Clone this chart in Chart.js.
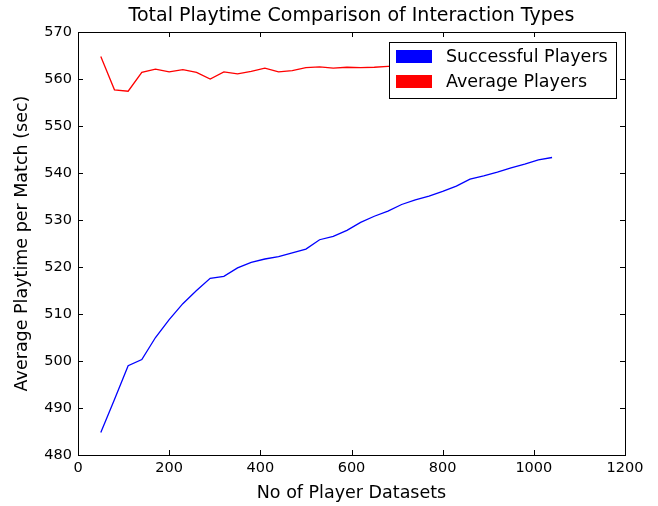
<!DOCTYPE html>
<html>
<head>
<meta charset="utf-8">
<title>Total Playtime Comparison of Interaction Types</title>
<script src="https://cdn.jsdelivr.net/npm/chart.js@4/dist/chart.umd.min.js"></script>
<style>
  body { margin: 0; background: #fff; }
  #playtimeChart { display: block; }
</style>
</head>
<body>
<canvas id="playtimeChart" width="658" height="506"></canvas>
<script>
// data
const datasetSizes = [50, 80, 110, 140, 170, 200, 230, 260, 290, 320, 350, 380, 410, 440, 470, 500, 530,
  560, 590, 620, 650, 680, 710, 740, 770, 800, 830, 860, 890, 920, 950, 980, 1010, 1040];
const successfulPlayers = [484.8, 491.8, 499.0, 500.3, 505.0, 508.8, 512.2, 515.0, 517.6, 518.0, 519.8,
  521.0, 521.7, 522.2, 523.0, 523.8, 525.8, 526.5, 527.8, 529.5, 530.8, 531.9, 533.3, 534.3, 535.1,
  536.1, 537.2, 538.7, 539.4, 540.2, 541.1, 541.9, 542.8, 543.3];
// values after 680 sit behind the legend, guessed
const averagePlayers = [564.8, 557.7, 557.4, 561.4, 562.1, 561.5, 562.0, 561.4, 560.0, 561.5, 561.1,
  561.6, 562.3, 561.5, 561.8, 562.4, 562.6, 562.3, 562.5, 562.4, 562.5, 562.7, 562.8, 562.6, 562.9,
  563.0, 562.8, 563.1, 563.0, 563.2, 563.1, 563.3, 563.2, 563.4];
const xTicks = [0, 200, 400, 600, 800, 1000, 1200];
const yTicks = [480, 490, 500, 510, 520, 530, 540, 550, 560, 570];
const seriesNames = ["Successful Players", "Average Players"];
const seriesColors = ["#0000ff", "#ff0000"];

const FONT = "'DejaVu Sans', sans-serif";

document.addEventListener("DOMContentLoaded", () => {
  const ctx = document.getElementById("playtimeChart").getContext("2d");

  const toPoints = (vals) => vals.map((v, i) => ({ x: datasetSizes[i], y: v }));

  // title centred over the plot area, matplotlib style
  const titlePlugin = {
    id: "mplTitle",
    afterDraw(chart) {
      const c = chart.ctx;
      const a = chart.chartArea;
      c.save();
      c.fillStyle = "#000";
      c.font = "19px " + FONT;
      c.textAlign = "center";
      c.textBaseline = "middle";
      c.fillText("Total Playtime Comparison of Interaction Types", (a.left + a.right) / 2, 16);
      c.restore();
    }
  };

  // frame + inward ticks on all four sides
  const framePlugin = {
    id: "frame",
    afterDatasetsDraw(chart) {
      const c = chart.ctx;
      const a = chart.chartArea;
      const xs = chart.scales.x;
      const ys = chart.scales.y;
      const len = 5;
      c.save();
      c.strokeStyle = "#000";
      c.lineWidth = 1;
      c.beginPath();
      xTicks.forEach(t => {
        const px = Math.round(xs.getPixelForValue(t)) + 0.5;
        c.moveTo(px, a.bottom); c.lineTo(px, a.bottom - len);
        c.moveTo(px, a.top); c.lineTo(px, a.top + len);
      });
      yTicks.forEach(t => {
        const py = Math.round(ys.getPixelForValue(t)) + 0.5;
        c.moveTo(a.left, py); c.lineTo(a.left + len, py);
        c.moveTo(a.right, py); c.lineTo(a.right - len, py);
      });
      c.stroke();
      c.strokeRect(Math.round(a.left) + 0.5, Math.round(a.top) + 0.5,
        Math.round(a.right - a.left), Math.round(a.bottom - a.top));
      c.restore();
    }
  };

  // opaque legend box in the upper right
  const legendPlugin = {
    id: "boxLegend",
    afterDraw(chart) {
      const c = chart.ctx;
      const a = chart.chartArea;
      const boxW = 227, boxH = 56;
      const bx = a.right - 9 - boxW;
      const by = a.top + 10;
      c.save();
      c.fillStyle = "#fff";
      c.fillRect(bx, by, boxW, boxH);
      c.strokeStyle = "#000";
      c.lineWidth = 1;
      c.strokeRect(Math.round(bx) + 0.5, Math.round(by) + 0.5, boxW, boxH);
      c.font = "17.5px " + FONT;
      c.textBaseline = "middle";
      seriesNames.forEach((name, i) => {
        const cy = by + 14.5 + i * 25;
        c.fillStyle = seriesColors[i];
        c.fillRect(bx + 7, cy - 6.5, 36, 13);
        c.fillStyle = "#000";
        c.fillText(name, bx + 57, cy + 1);
      });
      c.restore();
    }
  };

  new Chart(ctx, {
    type: "line",
    data: {
      datasets: [
        {
          label: seriesNames[0],
          data: toPoints(successfulPlayers),
          borderColor: seriesColors[0],
          borderWidth: 1.3,
          pointRadius: 0,
          tension: 0,
          fill: false
        },
        {
          label: seriesNames[1],
          data: toPoints(averagePlayers),
          borderColor: seriesColors[1],
          borderWidth: 1.3,
          pointRadius: 0,
          tension: 0,
          fill: false
        }
      ]
    },
    options: {
      responsive: false,
      animation: false,
      events: [],
      layout: { padding: { top: 32, right: 33, left: 0, bottom: 0 } },
      plugins: {
        legend: { display: false },
        title: { display: false },
        tooltip: { enabled: false }
      },
      scales: {
        x: {
          type: "linear",
          min: 0,
          max: 1200,
          afterFit: (s) => { s.height = 51; },
          afterBuildTicks: (s) => { s.ticks = xTicks.map(v => ({ value: v })); },
          grid: { display: false, drawTicks: false },
          border: { display: false },
          ticks: {
            color: "#000",
            font: { family: FONT, size: 14.5 },
            padding: 5,
            maxRotation: 0,
            callback: (v) => String(v)
          },
          title: {
            display: true,
            text: "No of Player Datasets",
            color: "#000",
            font: { family: FONT, size: 17.5 },
            padding: { top: 0, bottom: 2 }
          }
        },
        y: {
          type: "linear",
          min: 480,
          max: 570,
          afterFit: (s) => { s.width = 78; },
          afterBuildTicks: (s) => { s.ticks = yTicks.map(v => ({ value: v })); },
          grid: { display: false, drawTicks: false },
          border: { display: false },
          ticks: {
            color: "#000",
            font: { family: FONT, size: 14.5 },
            padding: 6,
            callback: (v) => String(v)
          },
          title: {
            display: true,
            text: "Average Playtime per Match (sec)",
            color: "#000",
            font: { family: FONT, size: 17.5 },
            padding: { top: 12, bottom: 0 }
          }
        }
      }
    },
    plugins: [titlePlugin, framePlugin, legendPlugin]
  });
});
</script>
</body>
</html>
